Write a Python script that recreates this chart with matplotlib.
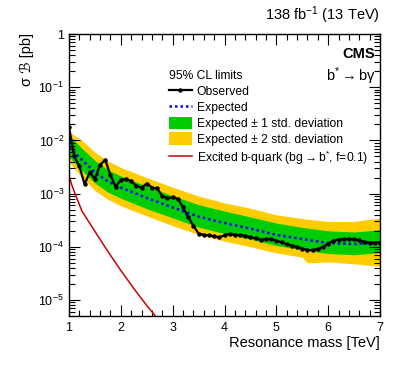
import math
import matplotlib
matplotlib.use("Agg")
import matplotlib.pyplot as plt
from matplotlib.ticker import MultipleLocator, LogLocator, FuncFormatter, NullFormatter
from matplotlib.lines import Line2D
from matplotlib.patches import Patch

plt.rcParams['font.family'] = ['Liberation Sans', 'DejaVu Sans']
plt.rcParams['mathtext.fontset'] = 'custom'
plt.rcParams['mathtext.rm'] = 'Liberation Sans'
plt.rcParams['mathtext.it'] = 'Liberation Sans:italic'
plt.rcParams['mathtext.bf'] = 'Liberation Sans:bold'

# observed limit, 0.1 TeV steps
obs_mass = [1.0, 1.1, 1.2, 1.3, 1.4, 1.5, 1.6, 1.7, 1.8, 1.9,
            2.0, 2.1, 2.2, 2.3, 2.4, 2.5, 2.6, 2.7, 2.8, 2.9,
            3.0, 3.1, 3.2, 3.3, 3.4, 3.5, 3.6, 3.7, 3.8, 3.9,
            4.0, 4.1, 4.2, 4.3, 4.4, 4.5, 4.6, 4.7, 4.8, 4.9,
            5.0, 5.1, 5.2, 5.3, 5.4, 5.5, 5.6, 5.7, 5.8, 5.9,
            6.0, 6.1, 6.2, 6.3, 6.4, 6.5, 6.6, 6.7, 6.8, 6.9, 7.0]
obs_limit = [0.0181, 0.0050, 0.0033, 0.0015, 0.0025, 0.0019, 0.0035, 0.0043, 0.0022, 0.00135,
             0.0018, 0.0019, 0.0017, 0.0014, 0.0013, 0.00155, 0.0013, 0.00125, 0.0009, 0.00082,
             0.00085, 0.0008, 0.00055, 0.00036, 0.00025, 0.000178, 0.000168, 0.000165, 0.000157, 0.000151,
             0.000165, 0.000175, 0.000168, 0.000166, 0.00016, 0.000152, 0.000145, 0.000136, 0.00014, 0.00014,
             0.00013, 0.000122, 0.000112, 0.000105, 0.0001, 0.000092, 0.000087, 0.000087, 0.000091, 0.0001,
             0.000115, 0.00013, 0.000137, 0.00014, 0.00014, 0.000138, 0.000133, 0.000124, 0.00012, 0.00012, 0.00012]

# expected limit and bands
exp_mass = [1.0, 1.25, 1.5, 1.75, 2.0, 2.5, 3.0, 3.5, 4.0, 4.5, 5.0, 5.5, 5.6, 6.0, 6.5, 7.0]
exp_limit = [0.0076, 0.0043, 0.0025, 0.0017, 0.0013, 0.00083, 0.00055, 0.00037, 0.00028, 0.00022,
             0.000168, 0.00014, 0.000135, 0.000118, 0.000113, 0.00012]
exp_m1 = [0.0049, 0.0027, 0.00158, 0.00107, 0.00082, 0.00052, 0.00035, 0.000235, 0.000177, 0.000139,
          0.000106, 0.000088, 0.000085, 0.000075, 0.000071, 0.000078]
exp_p1 = [0.0126, 0.0071, 0.0042, 0.0028, 0.00215, 0.00138, 0.00091, 0.00062, 0.00047, 0.000365,
          0.00028, 0.000232, 0.000225, 0.0002, 0.00019, 0.00021]
exp_m2 = [0.0040, 0.0020, 0.00115, 0.00078, 0.00059, 0.00038, 0.00025, 0.00017, 0.000128, 0.0001,
          0.000077, 0.000064, 0.00005, 0.000052, 0.000048, 0.000043]
exp_p2 = [0.0146, 0.0100, 0.0060, 0.0041, 0.0031, 0.0020, 0.00132, 0.0009, 0.00067, 0.00053,
          0.0004, 0.00034, 0.00033, 0.0003, 0.0003, 0.00035]

# excited b-quark theory cross section
th_mass = [1.0, 1.05, 1.1, 1.175, 1.25, 1.5, 1.75, 2.0, 2.25, 2.5, 2.75, 3.0]
th_xsec = [0.0022, 0.0015, 0.0011, 0.00072, 0.00047, 0.000195, 0.000082, 0.000036, 0.0000165,
           0.0000079, 0.000004, 0.000002]

fig = plt.figure(figsize=(4.07, 3.72), dpi=100)
ax = fig.add_axes([0.1695, 0.1505, 0.7642, 0.7581])

ax.fill_between(exp_mass, exp_m2, exp_p2, color='#ffcc00', lw=0)
ax.fill_between(exp_mass, exp_m1, exp_p1, color='#00cc00', lw=0)
ax.plot(exp_mass, exp_limit, color='#0000ff', ls=(0, (1, 1.2)), lw=1.8)
ax.plot(obs_mass, obs_limit, color='black', lw=1.6, marker='o', ms=2.2)
ax.plot(th_mass, th_xsec, color='#cc0000', lw=1.1)

ax.set_yscale('log')
ax.set_xlim(1, 7)
ax.set_ylim(10**-5.3, 1)

ax.xaxis.set_major_locator(MultipleLocator(1))
ax.xaxis.set_minor_locator(MultipleLocator(0.2))
ax.yaxis.set_major_locator(LogLocator(base=10, numticks=10))
ax.yaxis.set_minor_locator(LogLocator(base=10, subs=range(2, 10), numticks=20))
ax.yaxis.set_minor_formatter(NullFormatter())


def ylab(v, pos):
    if abs(v - 1) < 1e-9:
        return '1'
    return r'$10^{%d}$' % round(math.log10(v))


ax.yaxis.set_major_formatter(FuncFormatter(ylab))
ax.tick_params(which='both', direction='in', top=True, right=True, labelsize=9, width=0.8)
ax.tick_params(which='major', length=8)
ax.tick_params(which='minor', length=4)
ax.tick_params(axis='x', pad=4)
for s in ax.spines.values():
    s.set_linewidth(1.0)

ax.set_xlabel('Resonance mass [TeV]', fontsize=10.5, loc='right', labelpad=2)
fig.text(0.065, 0.91, 'σ ℬ [pb]', rotation=90, ha='center', va='top', fontsize=10.5)

fig.text(0.934, 0.93, r'138 fb$^{\mathregular{-1}}$ (13 TeV)', ha='right', va='bottom', fontsize=10.5)
ax.text(0.985, 0.955, 'CMS', transform=ax.transAxes, ha='right', va='top', fontsize=10.5, fontweight='bold')
ax.text(0.985, 0.89, r'b$^{\mathregular{*}}\rightarrow$bγ', transform=ax.transAxes,
        ha='right', va='top', fontsize=10.5)

handles = [
    Line2D([], [], color='black', lw=1.6, marker='o', ms=2.2),
    Line2D([], [], color='#0000ff', ls=(0, (1, 1.2)), lw=1.8),
    Patch(facecolor='#00cc00', edgecolor='none'),
    Patch(facecolor='#ffcc00', edgecolor='none'),
    Line2D([], [], color='#cc0000', lw=1.1),
]
labels = ['Observed', 'Expected', 'Expected ± 1 std. deviation',
          'Expected ± 2 std. deviation', r'Excited b-quark (bg$\rightarrow$b$^{\mathregular{*}}$, f=0.1)']
leg = ax.legend(handles, labels, title='95% CL limits', loc='upper left',
                bbox_to_anchor=(169 / 407, 1 - 70 / 372), bbox_transform=fig.transFigure,
                frameon=False, fontsize=8.7, title_fontsize=8.7, handlelength=1.9, handleheight=1.2,
                handletextpad=0.4, labelspacing=0.22, borderpad=0, borderaxespad=0)
leg._legend_box.align = 'left'

fig.savefig('out.png', dpi=100)
